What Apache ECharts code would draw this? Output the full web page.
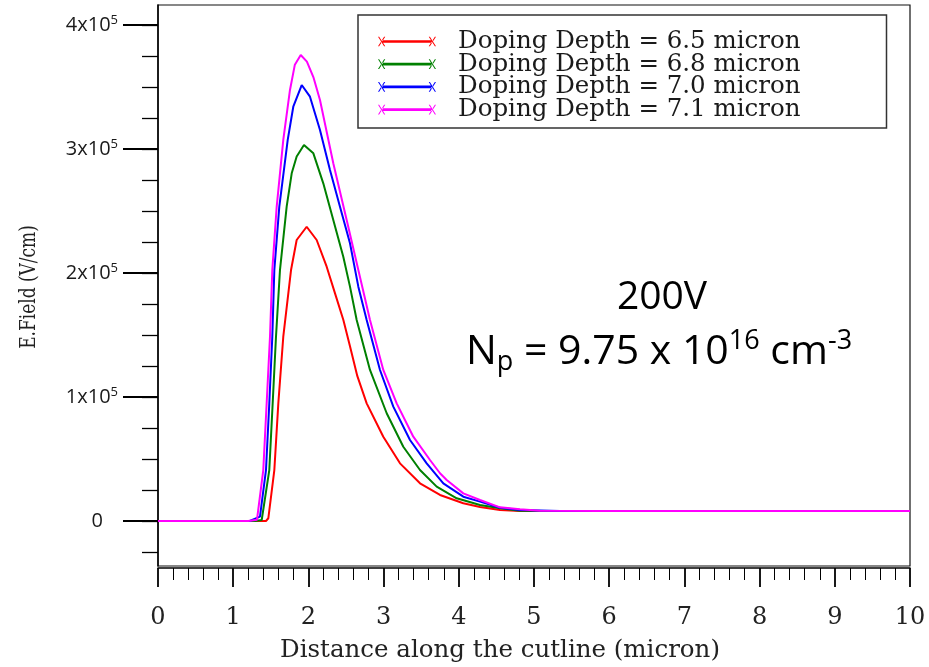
<!DOCTYPE html>
<html>
<head>
<meta charset="utf-8">
<script src="https://cdn.jsdelivr.net/npm/echarts@6/dist/echarts.min.js"></script>
<style>
html,body{margin:0;padding:0;background:#fff;}
#chart{width:929px;height:667px;}
</style>
</head>
<body>
<div id="chart"></div>
<script>
// ---- data (x in micron, E-field in V/cm) ----
const seriesNames = [
  'Doping Depth = 6.5 micron',
  'Doping Depth = 6.8 micron',
  'Doping Depth = 7.0 micron',
  'Doping Depth = 7.1 micron'
];
const seriesColors = ['#ff0000', '#008000', '#0000ff', '#ff00ff'];

const redX = [0, 1.436, 1.467, 1.547, 1.600, 1.666, 1.769, 1.844, 1.977, 2.110, 2.243, 2.354, 2.465, 2.553, 2.650, 2.775, 2.996, 3.218, 3.484, 3.750, 4.060, 4.282, 4.548, 4.814, 10];
const redY = [0, 0, 2200, 41100, 94900, 148600, 202400, 226600, 237300, 226600, 205100, 183600, 162100, 141000, 117000, 94900, 68000, 46500, 30400, 21000, 14300, 11300, 8900, 8000, 8000];

const greenX = [0, 1.29, 1.379, 1.480, 1.525, 1.569, 1.622, 1.711, 1.778, 1.844, 1.941, 2.066, 2.198, 2.331, 2.464, 2.553, 2.642, 2.819, 3.041, 3.262, 3.484, 3.706, 3.972, 4.282, 4.548, 4.814, 5.346, 10];
const greenY = [0, 0, 800, 41100, 94900, 148600, 202400, 253500, 280400, 294000, 303200, 296500, 272300, 242700, 213100, 189000, 162100, 121800, 86900, 59900, 41100, 27700, 18300, 12900, 10200, 8300, 8000, 8000];

const blueX = [0, 1.22, 1.356, 1.436, 1.480, 1.520, 1.547, 1.613, 1.725, 1.799, 1.911, 2.021, 2.154, 2.287, 2.420, 2.553, 2.664, 2.775, 2.952, 3.129, 3.351, 3.573, 3.794, 4.060, 4.282, 4.548, 4.814, 5.346, 10];
const blueY = [0, 0, 3500, 41100, 94900, 148600, 202400, 253500, 307300, 334100, 351600, 342200, 315300, 283100, 253500, 224000, 189000, 162100, 121800, 92200, 65300, 46500, 30400, 19600, 15600, 10700, 8900, 8000, 8000];

const magX = [0, 1.20, 1.316, 1.400, 1.445, 1.489, 1.520, 1.578, 1.666, 1.755, 1.820, 1.898, 1.980, 2.066, 2.154, 2.331, 2.509, 2.664, 2.819, 2.996, 3.174, 3.395, 3.617, 3.750, 3.839, 4.060, 4.282, 4.548, 4.814, 5.080, 5.878, 10];
const magY = [0, 0, 1000, 41100, 94900, 148400, 202400, 253200, 307300, 347600, 368000, 375800, 370500, 358000, 339500, 288500, 242700, 202400, 162100, 121800, 94900, 68000, 49200, 38500, 33100, 22300, 16900, 11000, 9400, 8300, 8000, 8000];

const xTicks = [0, 1, 2, 3, 4, 5, 6, 7, 8, 9, 10];
const yMajorTicks = [0, 100000, 200000, 300000, 400000];
const yMajorLabels = ['0', '1x10', '2x10', '3x10', '4x10'];
const yTitle = 'E.Field (V/cm)';
const xTitle = 'Distance along the cutline (micron)';

const xList = [redX, greenX, blueX, magX];
const yList = [redY, greenY, blueY, magY];

// ---- layout ----
const PX_PER_UNIT = 124 / 100000;    // vertical scale
const Y0 = 521, PLOT_TOP = 5, PLOT_BOT = 566;
const dataYMax = (Y0 - PLOT_TOP) / PX_PER_UNIT;
const dataYMin = -(PLOT_BOT - Y0) / PX_PER_UNIT;

const legendIcon = 'path://M3 5.6 L57 5.6 L57 8.4 L3 8.4 Z ' +
  'M0 2 L1.2 2 L7.5 12 L6.3 12 Z M0 12 L1.2 12 L7.5 2 L6.3 2 Z ' +
  'M52.5 2 L53.7 2 L60 12 L58.8 12 Z M52.5 12 L53.7 12 L60 2 L58.8 2 Z';

const series = seriesNames.map((n, i) => ({
  name: n,
  type: 'line',
  xAxisIndex: 0,
  yAxisIndex: 0,
  data: xList[i].map((x, k) => [x, yList[i][k]]),
  showSymbol: false,
  symbol: 'none',
  smooth: false,
  color: seriesColors[i],
  lineStyle: {width: 2, color: seriesColors[i]},
  z: 3 + i,
  silent: true,
  animation: false
}));

const chart = echarts.init(document.getElementById('chart'), null, {renderer: 'canvas'});
chart.setOption({
  animation: false,
  backgroundColor: '#fff',
  grid: [
    {left: 158, right: 19, top: PLOT_TOP, bottom: 667 - PLOT_BOT, show: true, borderColor: '#111', borderWidth: 1.2,
      backgroundColor: 'transparent', containLabel: false, outerBoundsMode: 'none'},
    {left: 158, right: 19, top: Y0 - 400000 * PX_PER_UNIT, bottom: 667 - (Y0 + 25000 * PX_PER_UNIT),
      containLabel: false, outerBoundsMode: 'none'},
    {left: 158, right: 19, top: Y0 - 400000 * PX_PER_UNIT, bottom: 667 - Y0,
      containLabel: false, outerBoundsMode: 'none'}
  ],
  xAxis: [
    {
      gridIndex: 0, type: 'value', min: 0, max: 10, interval: 1, offset: 2,
      axisLine: {onZero: false, lineStyle: {color: '#000', width: 1.5}},
      axisTick: {length: 19, lineStyle: {color: '#000', width: 1.8}},
      minorTick: {show: true, splitNumber: 5, length: 12, lineStyle: {color: '#000', width: 1}},
      splitLine: {show: false},
      axisLabel: {margin: 38, fontFamily: 'DejaVu Serif', fontSize: 24, color: '#222',
        formatter: v => String(xTicks[Math.round(v)])},
      name: xTitle, nameLocation: 'middle', nameGap: 70,
      nameTextStyle: {fontFamily: 'DejaVu Serif', fontSize: 24.5, color: '#222', padding: [0, 68, 0, 0]}
    },
    {gridIndex: 1, type: 'value', min: 0, max: 10, show: false},
    {gridIndex: 2, type: 'value', min: 0, max: 10, show: false}
  ],
  yAxis: [
    {
      gridIndex: 0, type: 'value', min: dataYMin, max: dataYMax,
      axisLine: {show: true, onZero: false, lineStyle: {color: '#000', width: 1.5}},
      axisTick: {show: false}, axisLabel: {show: false}, splitLine: {show: false}
    },
    {
      // minor ticks every 0.25x10^5
      gridIndex: 1, type: 'value', min: -25000, max: 400000, interval: 25000,
      axisLine: {show: false, onZero: false},
      axisTick: {show: true, length: 16, lineStyle: {color: '#000', width: 1.3}},
      axisLabel: {show: false}, splitLine: {show: false}
    },
    {
      // major ticks + labels
      gridIndex: 2, type: 'value', min: 0, max: 400000, interval: 100000,
      axisLine: {show: false, onZero: false},
      axisTick: {show: true, length: 35, lineStyle: {color: '#000', width: 2}},
      splitLine: {show: false},
      axisLabel: {
        margin: 40,
        formatter: v => {
          const idx = yMajorTicks.indexOf(v);
          const t = yMajorLabels[idx];
          return v === 0 ? '{z|' + t + '}' : '{b|' + t + '}{s|5}';
        },
        rich: {
          b: {fontFamily: 'Open Sans', fontSize: 20, color: '#1a1a1a', lineHeight: 22},
          z: {fontFamily: 'Open Sans', fontSize: 20, color: '#1a1a1a', lineHeight: 22, padding: [0, 15, 0, 0]},
          s: {fontFamily: 'Open Sans', fontSize: 13, color: '#1a1a1a', verticalAlign: 'top', lineHeight: 13}
        }
      }
    }
  ],
  legend: {
    orient: 'vertical', left: 358, top: 15,
    data: seriesNames,
    icon: legendIcon, itemWidth: 58, itemHeight: 10, itemGap: -2.3,
    itemStyle: {borderWidth: 0},
    backgroundColor: '#fff', borderColor: '#333', borderWidth: 1.5,
    padding: [14, 86, 6, 20],
    textStyle: {fontFamily: 'DejaVu Serif', fontSize: 24.5, color: '#1a1a1a', lineHeight: 22, padding: [0, 0, 0, 17]},
    selectedMode: false
  },
  graphic: [
    {type: 'text', x: 29, y: 287, rotation: Math.PI / 2, scaleY: 1.35, z: 10,
      style: {text: yTitle, fontFamily: 'DejaVu Serif', fontSize: 17, fill: '#222', align: 'center', verticalAlign: 'middle'}},
    {type: 'text', x: 662, y: 298, z: 10,
      style: {text: '200V', fontFamily: 'Open Sans', fontSize: 39, fill: '#000', align: 'center', verticalAlign: 'middle'}},
    {type: 'text', x: 659, y: 352, z: 10,
      style: {
        text: '{a|N}{sub|p}{a| = 9.75 x 10}{sup|16}{a| cm}{sup|-3}',
        align: 'center', verticalAlign: 'middle',
        rich: {
          a: {fontFamily: 'Open Sans', fontSize: 41, fill: '#000', lineHeight: 48},
          sub: {fontFamily: 'Open Sans', fontSize: 27, fill: '#000', verticalAlign: 'bottom', lineHeight: 27},
          sup: {fontFamily: 'Open Sans', fontSize: 27, fill: '#000', verticalAlign: 'top', lineHeight: 27}
        }
      }}
  ],
  series: series
});
</script>
</body>
</html>
